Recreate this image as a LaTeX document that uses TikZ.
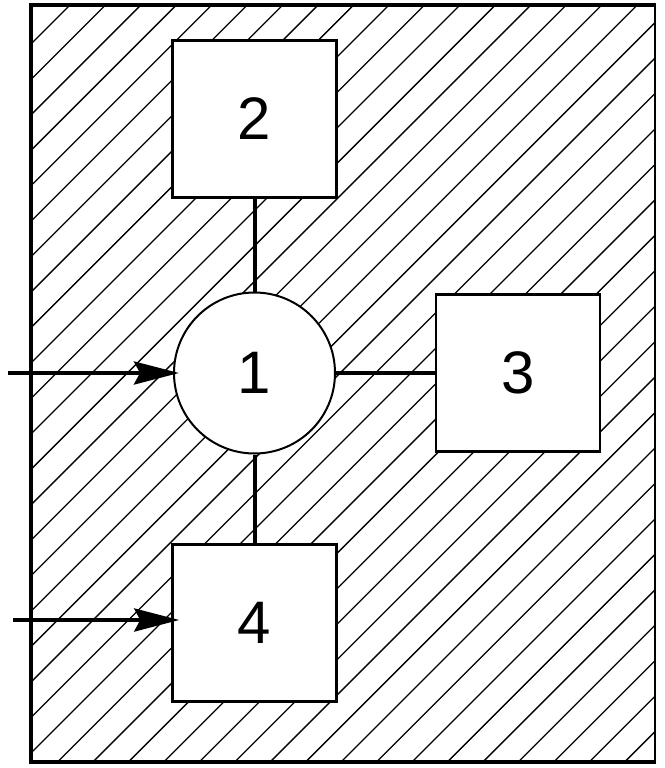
\documentclass[tikz,border=0pt]{standalone}
\usepackage{fontspec}
\setmainfont{Liberation Sans}
\usetikzlibrary{arrows.meta,positioning}
\begin{document}
\begin{tikzpicture}[x=1pt,y=-1pt,>={Stealth[length=45pt,width=23pt,inset=6pt]},on grid,
  block/.style={draw,line width=2.5pt,fill=white,inner sep=0pt,minimum width=164pt,minimum height=157pt},
  hub/.style={circle,draw,line width=2pt,fill=white,minimum size=161pt,inner sep=0pt},
  link/.style={line width=4pt},
  feed/.style={->,line width=4pt},
  font=\fontsize{60}{60}\selectfont]
  \useasboundingbox (0,0) rectangle (664,768);
  % hatched area
  \begin{scope}
    \clip (31,5) rectangle (655,762);
    \foreach \k in {-1,...,38}{
      \pgfmathsetmacro\hx{75+35.45*\k}
      \draw[line width=1.3pt] (\hx,0) -- ({\hx-800},800);
    }
  \end{scope}
  \draw[line width=4.5pt] (655,5) -- (31,5) -- (31,762) -- (655,762);
  \draw[line width=2pt] (655,3) -- (655,764);
  % blocks
  \node[hub]   (1) at (254.5,373)           {1};
  \node[block] (2) [above=254pt of 1]   {2};
  \node[block] (3) [right=263.5pt of 1] {3};
  \node[block] (4) [below=250pt of 1]   {4};
  \coordinate (in1) at (8,373);
  \coordinate (in4) at (13,620);
  % connectors
  \draw[link] (2) -- (1);
  \draw[link] (1) -- (3);
  \draw[link] (1) -- (4);
  \draw[feed,shorten >=-6pt] (in1) -- (1);
  \draw[feed,shorten >=-8pt] (in4) -- (in4 -| 4.west);
\end{tikzpicture}
\end{document}
